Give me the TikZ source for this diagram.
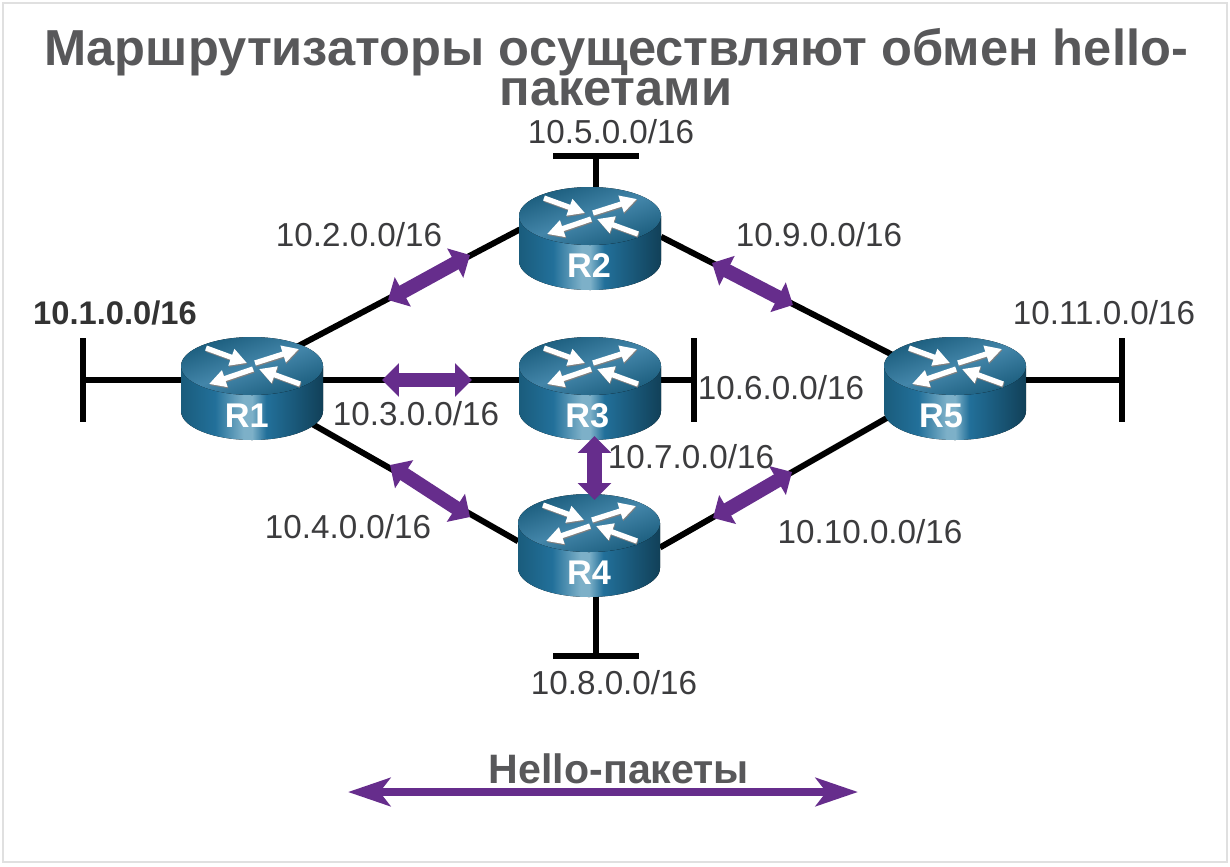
\documentclass[tikz,border=0pt]{standalone}
\usepackage{fontspec}
\setmainfont{Liberation Sans}
\usetikzlibrary{shapes,arrows.meta,positioning,calc,backgrounds}
\definecolor{hellopurple}{HTML}{662D8C}
\definecolor{titlegray}{HTML}{58585A}
\definecolor{textgray}{HTML}{3C3C3E}
\definecolor{rleft}{HTML}{1A5C7C}
\definecolor{rmid}{HTML}{22709A}
\definecolor{rlight}{HTML}{7DB0C8}
\definecolor{rdark}{HTML}{114058}
\pgfdeclarehorizontalshading{routerside}{100bp}{color(0bp)=(rleft); color(25bp)=(rleft); color(37bp)=(rmid); color(47bp)=(rlight); color(50bp)=(rlight); color(55bp)=(rmid); color(75bp)=(rdark); color(100bp)=(rdark)}
\tikzset{
    routerarrow/.style={draw=white, line width=3pt, -{Triangle[length=9.5pt,width=9.5pt]}},
    routershadow/.style={draw=gray, line width=3pt, -{Triangle[length=9.5pt,width=9.5pt]}},
    routerbody/.pic={
        \fill [shading=routerside] (-71,-22) -- (-71,23) arc [start angle=180, end angle=0, x radius=71, y radius=29] -- (71,-22) -- cycle;
        \fill [top color=rleft, bottom color=rleft, middle color=rmid!85!white, shading angle=20] (0,-22) ellipse [x radius=71, y radius=29];
        \foreach \xa/\ya/\xb/\yb in {-46/-40/-5/-25, 3/-25/47/-39, 1/-19/-43/-4, 48/-4/7/-19} {
            \draw [routershadow] (\xa+0.6,\ya+1.2) -- (\xb+0.6,\yb+1.2);
            \draw [routerarrow] (\xa,\ya) -- (\xb,\yb);
        }
    },
    routerbox/.style 2 args={ellipse, inner sep=0pt, minimum width=80.5pt, minimum height=57.8pt,
        label={[font=\fontsize{19.5}{19.5}\selectfont\bfseries, text=white, xshift=#2pt, yshift=-15.9pt]center:#1}},
    netlabel/.style={font=\fontsize{18.9}{18.9}\selectfont, text=textgray, inner sep=0pt},
    netbarv/.style={fill=black, inner sep=0pt, minimum width=3.2pt, minimum height=48pt},
    netbarh/.style={fill=black, inner sep=0pt, minimum width=49pt, minimum height=3.2pt},
    link/.style={line width=3.4pt, black},
    hello/.style={line width=8pt, hellopurple, {Triangle[length=9.6pt,width=18.5pt]}-{Triangle[length=9.6pt,width=18.5pt]}},
    hellolegend/.style={line width=4.4pt, hellopurple, {Stealth[length=24pt,width=16pt,inset=6pt]}-{Stealth[length=24pt,width=16pt,inset=6pt]}}
}
\begin{document}
\begin{tikzpicture}[x=0.02cm, y=-0.02cm]
    \useasboundingbox (0,0) rectangle (1230,866);
    \begin{scope}[on background layer]
        \fill [white] (0,0) rectangle (1230,866);
        \draw [black!12, line width=0.6pt] (3,3) rectangle (1227,862);
    \end{scope}

    \node (title) [font=\fontsize{28.8}{20.4}\selectfont\bfseries, text=titlegray, align=center, inner sep=0pt] at (616,67) {Маршрутизаторы осуществляют обмен hello-\\пакетами};

    \path (252,388) pic {routerbody} node (R1) [routerbox={R1}{-3}] {};
    \path (590,238) pic {routerbody} node (R2) [routerbox={R2}{-0.5}] {};
    \path (590,388) pic {routerbody} node (R3) [routerbox={R3}{-1.5}] {};
    \path (589,545) pic {routerbody} node (R4) [routerbox={R4}{0}] {};
    \path (955,388) pic {routerbody} node (R5) [routerbox={R5}{-8}] {};

    \node (bar1) [netbarv] at (83,380) {};
    \node (bar5) [netbarh] at (596,156) {};
    \node (bar6) [netbarv] at (694,380) {};
    \node (bar8) [netbarh] at (596,656) {};
    \node (bar11) [netbarv] at (1122,380) {};

    \begin{scope}[on background layer]
        \draw [link] (bar1) -- (bar1 -| R1);
        \draw [link] (bar1 -| R1) -- (bar1 -| R3);
        \draw [link] (bar6 -| R3) -- (bar6);
        \draw [link] (bar11 -| R5) -- (bar11);
        \draw [link] (bar5 |- R2) -- (bar5);
        \draw [link] (bar8 |- R4) -- (bar8);
        \draw [link] (R1.43) -- (R2.173);
        \draw [link] (R2.1) -- (R5.152);
        \draw [link] (R1.329) -- (R4.177);
        \draw [link] (R4.358) -- (R5.203);
    \end{scope}

    \coordinate (h12a) at (388,300);
    \coordinate (h12b) at (470,255);
    \coordinate (h25a) at (712,263);
    \coordinate (h25b) at (793,305);
    \coordinate (h13a) at (382,380);
    \coordinate (h13b) at (472,380);
    \coordinate (h34a) at (594.5,436);
    \coordinate (h34b) at (594.5,500);
    \coordinate (h14a) at (390,465);
    \coordinate (h14b) at (470,517);
    \coordinate (h45a) at (713,518);
    \coordinate (h45b) at (792,472);
    \coordinate (lega) at (348,792);
    \coordinate (legb) at (858,792);

    \draw [hello] (h12a) -- (h12b);
    \draw [hello] (h25a) -- (h25b);
    \draw [hello] (h13a) -- (h13b);
    \draw [hello] (h34a) -- (h34b);
    \draw [hello] (h14a) -- (h14b);
    \draw [hello] (h45a) -- (h45b);
    \draw [hellolegend] (lega) -- (legb);

    \node (net5) [netlabel] at (611,132) {10.5.0.0/16};
    \node (net2) [netlabel] at (359,235) {10.2.0.0/16};
    \node (net9) [netlabel] at (819,235) {10.9.0.0/16};
    \node (net1) [netlabel, font=\fontsize{18.6}{18.6}\selectfont\bfseries, text=black!80] at (115,313) {10.1.0.0/16};
    \node (net11) [netlabel] at (1104,313) {10.11.0.0/16};
    \node (net3) [netlabel] at (416,414) {10.3.0.0/16};
    \node (net6) [netlabel] at (781,388) {10.6.0.0/16};
    \node (net7) [netlabel] at (691,457) {10.7.0.0/16};
    \node (net4) [netlabel] at (348,527) {10.4.0.0/16};
    \node (net10) [netlabel] at (870,532) {10.10.0.0/16};
    \node (net8) [netlabel] at (614,683) {10.8.0.0/16};
    \node (legend) [font=\fontsize{23.4}{23.4}\selectfont\bfseries, text=titlegray, inner sep=0pt] at (619,769) {Hello-пакеты};
\end{tikzpicture}
\end{document}
